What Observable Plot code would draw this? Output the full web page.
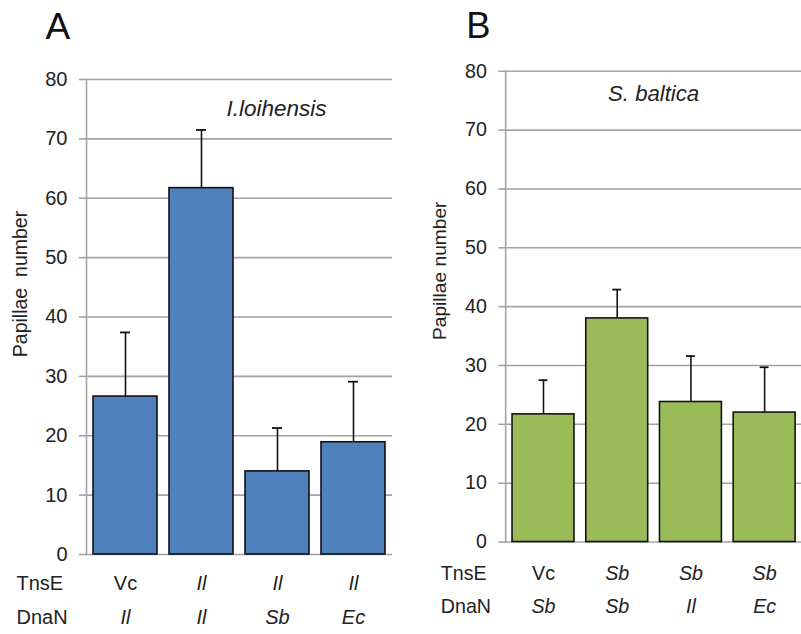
<!DOCTYPE html>
<html>
<head>
<meta charset="utf-8">
<script src="https://cdn.jsdelivr.net/npm/d3@7"></script>
<script src="https://cdn.jsdelivr.net/npm/@observablehq/plot@0.6"></script>
<style>
  html, body { margin: 0; padding: 0; background: #fff; }
  #wrap { position: relative; width: 801px; height: 634px; overflow: hidden; background: #fff; }
  #a, #b { position: absolute; top: 0; }
  #a { left: 0; }
  #b { left: 400px; }
</style>
</head>
<body>
<div id="wrap"><div id="a"></div><div id="b"></div></div>
<script>
// ---- data ----
const yTicks = [0, 10, 20, 30, 40, 50, 60, 70, 80];
const rowLabels = ["TnsE", "DnaN"];

const speciesA = "I.loihensis";
const yLabelA = "Papillae\u00a0\u00a0number";
const tnsEA = ["Vc", "Il", "Il", "Il"];
const dnaNA = ["Il", "Il", "Sb", "Ec"];
const valuesA = [26.6, 61.7, 14.0, 18.9];
const errorsA = [10.8, 9.8, 7.3, 10.2];

const speciesB = "S. baltica";
const yLabelB = "Papillae number";
const tnsEB = ["Vc", "Sb", "Sb", "Sb"];
const dnaNB = ["Sb", "Sb", "Il", "Ec"];
const valuesB = [21.7, 38.0, 23.8, 22.0];
const errorsB = [5.8, 4.9, 7.8, 7.7];

const grid = "#a3a3a3";
const font = "'Liberation Sans', Arial, sans-serif";
const fs = 20;

function panel(cfg) {
  const rows = cfg.values.map((v, i) => ({
    k: String(i), v, top: v + cfg.errors[i], tnsE: cfg.tnsE[i], dnaN: cfg.dnaN[i]
  }));
  const plain = s => s === "Vc";
  const rowText = (data, field, dy, italic) => Plot.text(data, {
    x: "k", text: field, frameAnchor: "bottom", textAnchor: "middle", lineAnchor: "middle",
    dy, fontSize: fs, fontStyle: italic ? "italic" : "normal", fill: "#222"
  });
  return Plot.plot({
    width: cfg.width,
    height: 634,
    marginLeft: cfg.ml, marginRight: cfg.mr, marginTop: cfg.mt, marginBottom: cfg.mb,
    style: { fontFamily: font, fontSize: fs + "px", color: "#222", background: "transparent" },
    x: { type: "band", domain: rows.map(d => d.k), paddingInner: 0.16, paddingOuter: 0.08, axis: null },
    y: { domain: [0, 80], axis: null },
    marks: [
      Plot.ruleY(yTicks, { stroke: grid, strokeWidth: 1.6 }),
      Plot.axisY({ ticks: yTicks, tickSize: 7, tickPadding: 12, stroke: grid, strokeWidth: 1.6, label: null, fontSize: fs, fill: "#222" }),
      Plot.frame({ anchor: "left", stroke: grid, strokeWidth: 1.6 }),
      Plot.barY(rows, { x: "k", y: "v", fill: cfg.color, stroke: "#111", strokeWidth: 1.6 }),
      Plot.ruleX(rows, { x: "k", y1: "v", y2: "top", stroke: "#111", strokeWidth: 1.6 }),
      Plot.tickY(rows, { x: "k", y: "top", stroke: "#111", strokeWidth: 1.8, insetLeft: cfg.capInset, insetRight: cfg.capInset }),
      // category rows
      rowText(rows.filter(d => plain(d.tnsE)), "tnsE", cfg.row1, false),
      rowText(rows.filter(d => !plain(d.tnsE)), "tnsE", cfg.row1, true),
      rowText(rows.filter(d => plain(d.dnaN)), "dnaN", cfg.row2, false),
      rowText(rows.filter(d => !plain(d.dnaN)), "dnaN", cfg.row2, true),
      Plot.text([rowLabels[0]], { frameAnchor: "bottom-left", textAnchor: "start", lineAnchor: "middle", dx: cfg.rowDx, dy: cfg.row1, fontSize: fs, fill: "#222" }),
      Plot.text([rowLabels[1]], { frameAnchor: "bottom-left", textAnchor: "start", lineAnchor: "middle", dx: cfg.rowDx, dy: cfg.row2, fontSize: fs, fill: "#222" }),
      // y label
      Plot.text([cfg.yLabel], { frameAnchor: "left", textAnchor: "middle", lineAnchor: "middle", rotate: -90, dx: cfg.ylDx, dy: cfg.ylDy, fontSize: 19.5, fill: "#222" }),
      // species label
      Plot.text([cfg.species], { frameAnchor: "top", textAnchor: "middle", lineAnchor: "middle", dx: cfg.spDx, dy: cfg.spDy, fontSize: 22.5, fontStyle: "italic", fill: "#222" }),
      // panel letter
      Plot.text([cfg.letter], { frameAnchor: "top-left", textAnchor: "start", lineAnchor: "bottom", dx: cfg.letDx, dy: cfg.letDy, fontSize: 37, fill: "#111" })
    ]
  });
}

document.getElementById("a").appendChild(panel({
  letter: "A", species: speciesA, yLabel: yLabelA, tnsE: tnsEA, dnaN: dnaNA, values: valuesA, errors: errorsA,
  color: "#4f81bd", width: 400, ml: 86, mr: 8, mt: 79, mb: 80,
  capInset: 27, row1: 29, row2: 63, rowDx: -70, ylDx: -65.5, ylDy: -33,
  spDx: 37, spDy: 29, letDx: -41, letDy: -41
}));

document.getElementById("b").appendChild(panel({
  letter: "B", species: speciesB, yLabel: yLabelB, tnsE: tnsEB, dnaN: dnaNB, values: valuesB, errors: errorsB,
  color: "#9bbb59", width: 408, ml: 107, mr: 0, mt: 72, mb: 83,
  capInset: 27, row1: 32, row2: 66, rowDx: -66, ylDx: -66.5, ylDy: -36.5,
  spDx: 0, spDy: 23, letDx: -40, letDy: -34
}));
</script>
</body>
</html>
